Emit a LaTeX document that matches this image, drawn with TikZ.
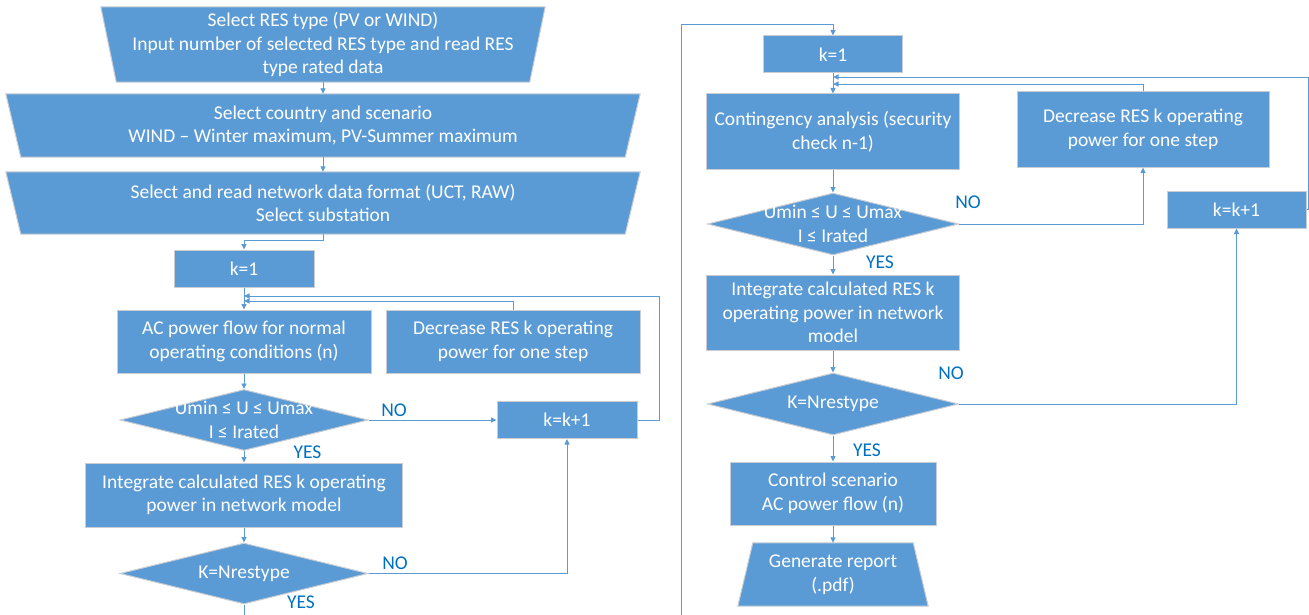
\documentclass[tikz,border=0pt]{standalone}
\usepackage{fontspec}
\setmainfont{Carlito}
\usetikzlibrary{arrows.meta,shapes.geometric,calc}
\definecolor{boxblue}{HTML}{5B9BD5}
\definecolor{lineblue}{HTML}{5B9BD5}
\definecolor{edgegray}{HTML}{C9CDD3}
\definecolor{labblue}{HTML}{0070C0}
\pgfdeclarelayer{background}
\pgfsetlayers{background,main}
\begin{document}
\begin{tikzpicture}[x=1pt,y=-1pt,
  every node/.style={font=\fontsize{19.5}{23.5}\selectfont},
  txt/.style={inner sep=0pt, text=white, align=center},
  rbox/.style={txt, rectangle, fill=boxblue, draw=edgegray, line width=1pt},
  dia/.style={diamond, inner sep=0pt, fill=boxblue, draw=edgegray, line width=1pt},
  frame/.style={txt, rectangle},
  shp/.style={fill=boxblue, draw=edgegray, line width=1pt},
  flow/.style={draw=lineblue, line width=0.9pt, -{Triangle[length=5.5pt,width=5pt]}},
  wire/.style={draw=lineblue, line width=0.9pt},
  lab/.style={text=labblue, inner sep=0pt},
]
\useasboundingbox (0,0) rectangle (1309,615);

% ---------------- left column ----------------
\node[frame, minimum width=444, minimum height=75] (s1) at (323,44.5)
  {Select RES type (PV or WIND)\\Input number of selected RES type and read RES\\type rated data};
\node[frame, minimum width=634, minimum height=63] (s2) at (323,125.5)
  {Select country and scenario\\WIND – Winter maximum, PV-Summer maximum};
\node[frame, minimum width=634, minimum height=62] (s3) at (323,203)
  {Select and read network data format (UCT, RAW)\\Select substation};
\node[rbox, minimum width=140, minimum height=37] (k1) at (244,268.5) {k=1};
\node[rbox, minimum width=254, minimum height=63] (ac) at (244,341.5)
  {AC power flow for normal\\operating conditions (n)};
\node[rbox, minimum width=254, minimum height=63] (dec) at (513,341.5)
  {Decrease RES k operating\\power for one step};
\node[dia, minimum width=248, minimum height=61] (d1) at (244,420) {};
\node[txt] (d1t) at (d1) {Umin ≤ U ≤ Umax\\I ≤ Irated};
\node[rbox, minimum width=140, minimum height=37] (kk1) at (567,420) {k=k+1};
\node[rbox, minimum width=317, minimum height=64] (int) at (244,495)
  {Integrate calculated RES k operating\\power in network model};
\node[dia, minimum width=248, minimum height=61] (d2) at (244,573.5) {};
\node[txt] (d2t) at (d2) {K=Nrestype};

\node[lab] (no1) at (394,410) {NO};
\node[lab] (yes1) at (307.5,452) {YES};
\node[lab] (no2) at (395,563) {NO};
\node[lab] (yes2) at (301,602) {YES};

% ---------------- right column ----------------
\node[rbox, minimum width=139, minimum height=37] (k1r) at (833,54.5) {k=1};
\node[rbox, minimum width=253, minimum height=75] (cont) at (833,131.5)
  {Contingency analysis (security\\check n-1)};
\node[rbox, minimum width=252, minimum height=75] (decr) at (1143,129.5)
  {Decrease RES k operating\\power for one step};
\node[dia, minimum width=251, minimum height=62] (d1r) at (833,224) {};
\node[txt] (d1rt) at (d1r) {Umin ≤ U ≤ Umax\\I ≤ Irated};
\node[rbox, minimum width=139, minimum height=37] (kk1r) at (1236.5,209.5) {k=k+1};
\node[rbox, minimum width=253, minimum height=75] (intr) at (833,312.5)
  {Integrate calculated RES k\\operating power in network\\model};
\node[dia, minimum width=251, minimum height=62] (d2r) at (833,404) {};
\node[txt] (d2rt) at (d2r) {K=Nrestype};
\node[rbox, minimum width=206, minimum height=63] (ctrl) at (833,493.5)
  {Control scenario\\AC power flow (n)};
\node[frame, minimum width=190, minimum height=63] (gen) at (833,574.5)
  {Generate report\\(.pdf)};

\node[lab] (no3) at (968,202) {NO};
\node[lab] (yes3) at (880,262) {YES};
\node[lab] (no4) at (951,373) {NO};
\node[lab] (yes4) at (867,450) {YES};

% ---------------- shapes drawn behind text ----------------
\begin{pgfonlayer}{background}
\filldraw[shp] (s1.north west) -- (s1.north east) -- ([xshift=-15.5pt]s1.south east)
  -- ([xshift=15.5pt]s1.south west) -- cycle;
\filldraw[shp] (s2.north west) -- (s2.north east) -- ([xshift=-15pt]s2.south east)
  -- ([xshift=15pt]s2.south west) -- cycle;
\filldraw[shp] (s3.north west) -- (s3.north east) -- ([xshift=-15pt]s3.south east)
  -- ([xshift=15pt]s3.south west) -- cycle;
\filldraw[shp] ([xshift=15pt]gen.north west) -- ([xshift=-15pt]gen.north east)
  -- (gen.south east) -- (gen.south west) -- cycle;
\end{pgfonlayer}

% ---------------- connectors: left ----------------
\coordinate (j1) at (323,240);
\coordinate (loopL) at (659,296);
\coordinate (inL) at (513,301);
\coordinate (botL) at (244,615);
\draw[flow] (s1.south) -- (s2.north);
\draw[flow] (s2.south) -- (s3.north);
\draw[flow] (s3.south) -- (j1) -- (j1 -| k1.north) -- (k1.north);
\draw[flow] (k1.south) -- (ac.north);
\draw[flow] (kk1.east) -- (kk1.east -| loopL) -- (loopL) -- (loopL -| k1.south);
\draw[flow] (dec.north) -- (inL) -- (inL -| k1.south);
\draw[flow] (ac.south) -- (d1.north);
\draw[flow] (d1.east) -- (kk1.west);
\draw[flow] (d1.south) -- (int.north);
\draw[flow] (int.south) -- (d2.north);
\draw[flow] (d2.east) -- (d2.east -| kk1.south) -- (kk1.south);
\draw[wire] (d2.south) -- (botL);

% ---------------- connectors: right ----------------
\coordinate (botR) at (681,615);
\coordinate (topR) at (681,24);
\coordinate (loopR) at (1308,77);
\coordinate (inR) at (1143,84);
\draw[flow] (botR) -- (topR) -- (topR -| k1r.north) -- (k1r.north);
\draw[flow] (k1r.south) -- (cont.north);
\draw[flow] (kk1r.east) -- (kk1r.east -| loopR) -- (loopR) -- (loopR -| k1r.south);
\draw[flow] (decr.north) -- (inR) -- (inR -| k1r.south);
\draw[flow] (cont.south) -- (d1r.north);
\draw[flow] (d1r.east) -- (d1r.east -| decr.south) -- (decr.south);
\draw[flow] (d1r.south) -- (intr.north);
\draw[flow] (intr.south) -- (d2r.north);
\draw[flow] (d2r.east) -- (d2r.east -| kk1r.south) -- (kk1r.south);
\draw[flow] (d2r.south) -- (ctrl.north);
\draw[flow] (ctrl.south) -- (gen.north);
\end{tikzpicture}
\end{document}
